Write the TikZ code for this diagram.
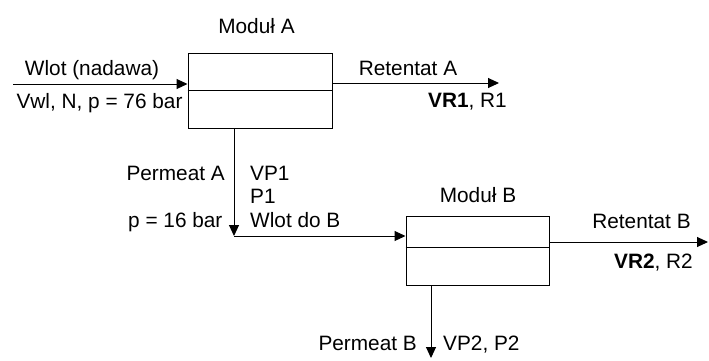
\documentclass[tikz,border=0pt]{standalone}
\usepackage{fontspec}
\setmainfont{Liberation Sans}
\usetikzlibrary{arrows.meta,calc}
\begin{document}
\begin{tikzpicture}[x=1pt,y=-1pt,
  every node/.style={font=\fontsize{20.8}{25}\selectfont, inner sep=0pt},
  modbox/.style={draw, line width=1pt, minimum width=144pt, minimum height=75pt},
  flow/.style={line width=1pt, -{Triangle[length=11pt,width=10pt]}},
  plain/.style={line width=1pt}]
\useasboundingbox (0,0) rectangle (709,360);
% modules
\node[modbox, minimum height=75pt] (A) at (260,90.5) {};
\node[modbox, minimum height=69pt, minimum width=143pt] (B) at (477.5,250.5) {};
\coordinate (divB) at (0,247);
\draw[plain] (A.west) -- (A.east);
\draw[plain] (B.west |- divB) -- (B.east |- divB);
% coordinates of free ends
\coordinate (inA) at (13,84);
\coordinate (outA) at (499,83);
\coordinate (pA) at (234,236);
\coordinate (outB) at (709,242);
\coordinate (pB) at (431,358);
% connectors
\draw[flow] (inA) -- (A.west |- inA);
\draw[flow] (A.east |- outA) -- (outA);
\draw[flow] (A.south -| pA) -- (pA);
\draw[flow] (pA) -- (B.west |- pA);
\draw[flow] (B.east |- outB) -- ($(outB)+(-1,0)$);
\draw[flow] (B.south -| pB) -- (pB);
% labels
\node[anchor=base] (tA) at (256.5,33.5) {Moduł A};
\node[anchor=base] (tin) at (92,75) {Wlot (nadawa)};
\node[anchor=base] (tin2) at (99.5,108) {Vwl, N, p = 76 bar};
\node[anchor=base] (tra) at (408,75) {Retentat A};
\node[anchor=base] (tra2) at (467.5,107) {\textbf{VR1}, R1};
\node[anchor=base east] (tpa) at (225,180) {Permeat A};
\node[anchor=base west] (tvp1) at (250,180) {VP1};
\node[anchor=base west] (tp1) at (250,203.5) {P1};
\node[anchor=base west] (twb) at (250,227.5) {Wlot do B};
\node[anchor=base west] (tp16) at (128,227.5) {p = 16 bar};
\node[anchor=base] (tB) at (478,202.7) {Moduł B};
\node[anchor=base] (trb) at (641.5,228.3) {Retentat B};
\node[anchor=base] (trb2) at (653.5,268.3) {\textbf{VR2}, R2};
\node[anchor=base east] (tpb) at (417,350) {Permeat B};
\node[anchor=base west] (tvp2) at (443,350) {VP2, P2};
\end{tikzpicture}
\end{document}
